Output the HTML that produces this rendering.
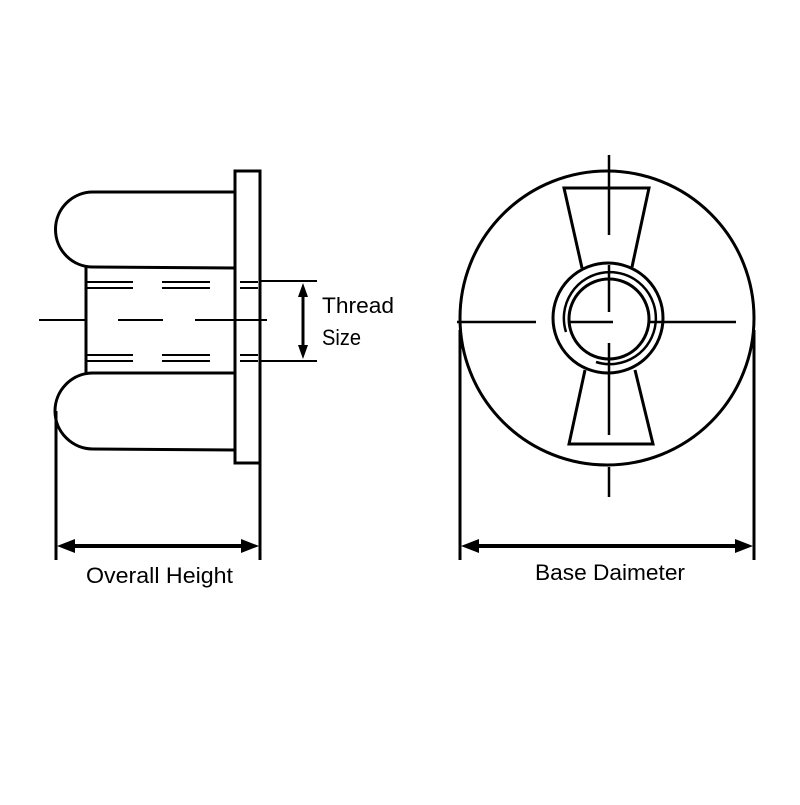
<!DOCTYPE html>
<html><head><style>html,body{margin:0;padding:0;background:#fff}</style></head>
<body>
<svg width="800" height="800" viewBox="0 0 800 800" xmlns="http://www.w3.org/2000/svg">
<g fill="none" stroke="#000" stroke-width="3">
  <rect x="235" y="171" width="25" height="292"/>
  <path d="M235 192 H93 A37.5 37.5 0 0 0 93 267 L235 268"/>
  <path d="M235 373 H93 A38 38 0 0 0 93 449 L235 450"/>
  <line x1="86" y1="267" x2="86" y2="373"/>
  <line x1="56" y1="411" x2="56" y2="560"/>
  <line x1="260" y1="463" x2="260" y2="560"/>
</g>
<g stroke="#000" stroke-width="2">
  <line x1="87" y1="282" x2="133" y2="282"/><line x1="87" y1="288" x2="133" y2="288"/>
  <line x1="162" y1="282" x2="210" y2="282"/><line x1="162" y1="288" x2="210" y2="288"/>
  <line x1="240" y1="282" x2="258" y2="282"/><line x1="240" y1="288" x2="258" y2="288"/>
  <line x1="87" y1="355" x2="133" y2="355"/><line x1="87" y1="361" x2="133" y2="361"/>
  <line x1="162" y1="355" x2="210" y2="355"/><line x1="162" y1="361" x2="210" y2="361"/>
  <line x1="240" y1="355" x2="258" y2="355"/><line x1="240" y1="361" x2="258" y2="361"/>
  <line x1="39" y1="320" x2="85" y2="320"/><line x1="118" y1="320" x2="163" y2="320"/><line x1="195" y1="320" x2="267" y2="320"/>
  <line x1="260" y1="281" x2="317" y2="281"/><line x1="260" y1="361" x2="317" y2="361"/>
  <line x1="303" y1="292" x2="303" y2="350" stroke-width="3"/>
  <line x1="66" y1="546" x2="250" y2="546" stroke-width="4"/>
  <line x1="470" y1="546" x2="744" y2="546" stroke-width="4"/>
</g>
<g fill="#000">
  <polygon points="303,283 298,297 308,297"/>
  <polygon points="303,359 298,345 308,345"/>
  <polygon points="57,546 75,539 75,553"/>
  <polygon points="259,546 241,539 241,553"/>
  <polygon points="461,546 479,539 479,553"/>
  <polygon points="753,546 735,539 735,553"/>
</g>
<g fill="none" stroke="#000" stroke-width="3">
  <circle cx="607" cy="318" r="147"/>
  <circle cx="608" cy="318" r="55"/>
  <circle cx="609" cy="319" r="40"/>
  <path d="M566 332 A46 46 0 1 1 596 362" stroke-width="2.5"/>
  <path d="M582 268 L564 188 H649 L632 267"/>
  <path d="M585 370 L569 444 H653 L635 370"/>
  <line x1="460" y1="330" x2="460" y2="560"/>
  <line x1="754" y1="330" x2="754" y2="560"/>
</g>
<g stroke="#000" stroke-width="2.5">
  <line x1="609" y1="155" x2="609" y2="235"/><line x1="609" y1="265" x2="609" y2="312"/>
  <line x1="609" y1="343" x2="609" y2="435"/><line x1="609" y1="467" x2="609" y2="497"/>
  <line x1="457" y1="322" x2="536" y2="322"/><line x1="568" y1="322" x2="613" y2="322"/><line x1="648" y1="322" x2="736" y2="322"/>
</g>
<g font-family="Liberation Sans, sans-serif" font-size="22" fill="#000">
  <text x="322" y="313" textLength="72" lengthAdjust="spacingAndGlyphs">Thread</text>
  <text x="322" y="345" textLength="39" lengthAdjust="spacingAndGlyphs">Size</text>
  <text x="86" y="583" textLength="147" lengthAdjust="spacingAndGlyphs">Overall Height</text>
  <text x="535" y="580" textLength="150" lengthAdjust="spacingAndGlyphs">Base Daimeter</text>
</g>
</svg>
</body></html>
